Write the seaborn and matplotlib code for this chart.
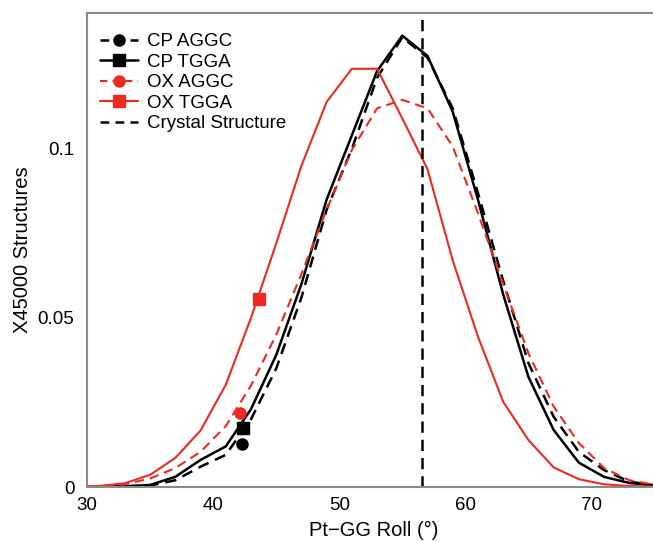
import numpy as np
import pandas as pd
import matplotlib
matplotlib.use("Agg")
import matplotlib.pyplot as plt
from matplotlib.lines import Line2D
from matplotlib.ticker import MultipleLocator
import seaborn as sns

# ---- data ----
roll = [29, 31, 33, 35, 37, 39, 41, 43, 45, 47, 49, 51, 53, 55, 57, 59, 61, 63, 65, 67, 69, 71, 73, 75, 77]

cp_aggc = [0.0, 0.0001, 0.0002, 0.0004, 0.002, 0.006, 0.0095, 0.020, 0.035, 0.056, 0.082, 0.100,
           0.121, 0.133, 0.127, 0.112, 0.087, 0.061, 0.0367, 0.0208, 0.0104, 0.005, 0.0016, 0.0005, 0.0001]
cp_tgga = [0.0, 0.0001, 0.0002, 0.0006, 0.003, 0.008, 0.012, 0.023, 0.039, 0.060, 0.085, 0.104,
           0.123, 0.1335, 0.1275, 0.111, 0.085, 0.057, 0.0326, 0.0169, 0.0072, 0.003, 0.0012, 0.0004, 0.0001]
ox_aggc = [0.0, 0.0003, 0.0008, 0.0025, 0.0056, 0.0104, 0.018, 0.030, 0.045, 0.063, 0.082, 0.0997,
           0.112, 0.1145, 0.112, 0.1007, 0.081, 0.060, 0.0396, 0.0238, 0.013, 0.0056, 0.002, 0.0007, 0.0002]
ox_tgga = [0.0, 0.0003, 0.0011, 0.0036, 0.0086, 0.0167, 0.0302, 0.050, 0.072, 0.095, 0.1139, 0.1237,
           0.1237, 0.109, 0.094, 0.067, 0.0445, 0.0252, 0.0139, 0.0058, 0.0023, 0.0008, 0.0003, 0.0001, 0.0]

# single highlighted marker per series
marker_x = [42.3, 42.4, 42.1, 43.6]
marker_y = [0.0127, 0.0175, 0.022, 0.0555]

crystal_roll = 56.6

labels = ["CP AGGC", "CP TGGA", "OX AGGC", "OX TGGA"]
RED = "#ec2a22"
colors = ["black", "black", RED, RED]
styles = ["--", "-", "--", "-"]
markers = ["o", "s", "o", "s"]
widths = [1.8, 1.8, 1.5, 1.5]

df = pd.DataFrame({
    "roll": roll * 4,
    "value": cp_aggc + cp_tgga + ox_aggc + ox_tgga,
    "series": sum([[l] * len(roll) for l in labels], []),
})

sns.set_style("white")
plt.rcParams["font.family"] = ["Liberation Sans", "DejaVu Sans"]
plt.rcParams["text.color"] = "black"
plt.rcParams["axes.labelcolor"] = "black"
plt.rcParams["xtick.labelcolor"] = "black"
plt.rcParams["ytick.labelcolor"] = "black"

fig = plt.figure(figsize=(6.53, 5.42), dpi=100)
ax = fig.add_axes([87 / 653, 1 - 487 / 542, 1 - 87 / 653 + 0.01, (487 - 13) / 542])

dash = (4.5, 2.8)
for lab, c, ls, lw in zip(labels, colors, styles, widths):
    sub = df[df.series == lab]
    sns.lineplot(data=sub, x="roll", y="value", ax=ax, color=c, lw=lw,
                 estimator=None, sort=True, legend=False)
    if ls == "--":
        ax.lines[-1].set_dashes(dash)

for mx, my, c, m in zip(marker_x, marker_y, colors, markers):
    ax.plot([mx], [my], marker=m, color=c, ms=8, ls="none", clip_on=False)

ax.axvline(crystal_roll, color="black", lw=1.8, dashes=(4.5, 2.8))

ax.set_xlim(30, 75.4)
ax.set_ylim(0, 0.1402)
ax.xaxis.set_major_locator(MultipleLocator(10))
ax.xaxis.set_minor_locator(MultipleLocator(5))
ax.yaxis.set_major_locator(MultipleLocator(0.05))
ax.yaxis.set_minor_locator(MultipleLocator(0.025))
ax.set_yticks([0, 0.05, 0.1])
ax.set_yticklabels(["0", "0.05", "0.1"])
ax.tick_params(which="both", direction="in", color="#999999", labelsize=13.5,
               labelcolor="black")
ax.tick_params(which="major", length=4, width=1)
ax.tick_params(which="minor", length=3, width=1)
ax.tick_params(axis="x", pad=7)
ax.tick_params(axis="y", pad=9)

for sp in ["left", "bottom", "top"]:
    ax.spines[sp].set_color("#8a8a8a")
    ax.spines[sp].set_linewidth(1.5)
ax.spines["right"].set_visible(False)

ax.set_xlabel("Pt\u2212GG Roll (°)", fontsize=14.5, labelpad=5, color="black")
ax.set_ylabel("X45000 Structures", fontsize=14.5, labelpad=4, color="black")

handles = []
for lab, c, ls, m, lw in zip(labels, colors, styles, markers, widths):
    h = Line2D([0], [0], color=c, lw=lw, marker=m, ms=8, ls=ls)
    if ls == "--":
        h.set_dashes((3.5, 2.5))
    handles.append(h)
hc = Line2D([0], [0], color="black", lw=1.8, ls="--")
hc.set_dashes((3.5, 2.5))
handles.append(hc)
leg = ax.legend(handles, labels + ["Crystal Structure"], loc="upper left",
                bbox_to_anchor=(0.0, 0.985), frameon=False, fontsize=13.5,
                handlelength=2.0, handletextpad=0.5, labelspacing=0.18,
                borderaxespad=0.3)
for t in leg.get_texts():
    t.set_color("black")

fig.savefig("out.png", dpi=100)
